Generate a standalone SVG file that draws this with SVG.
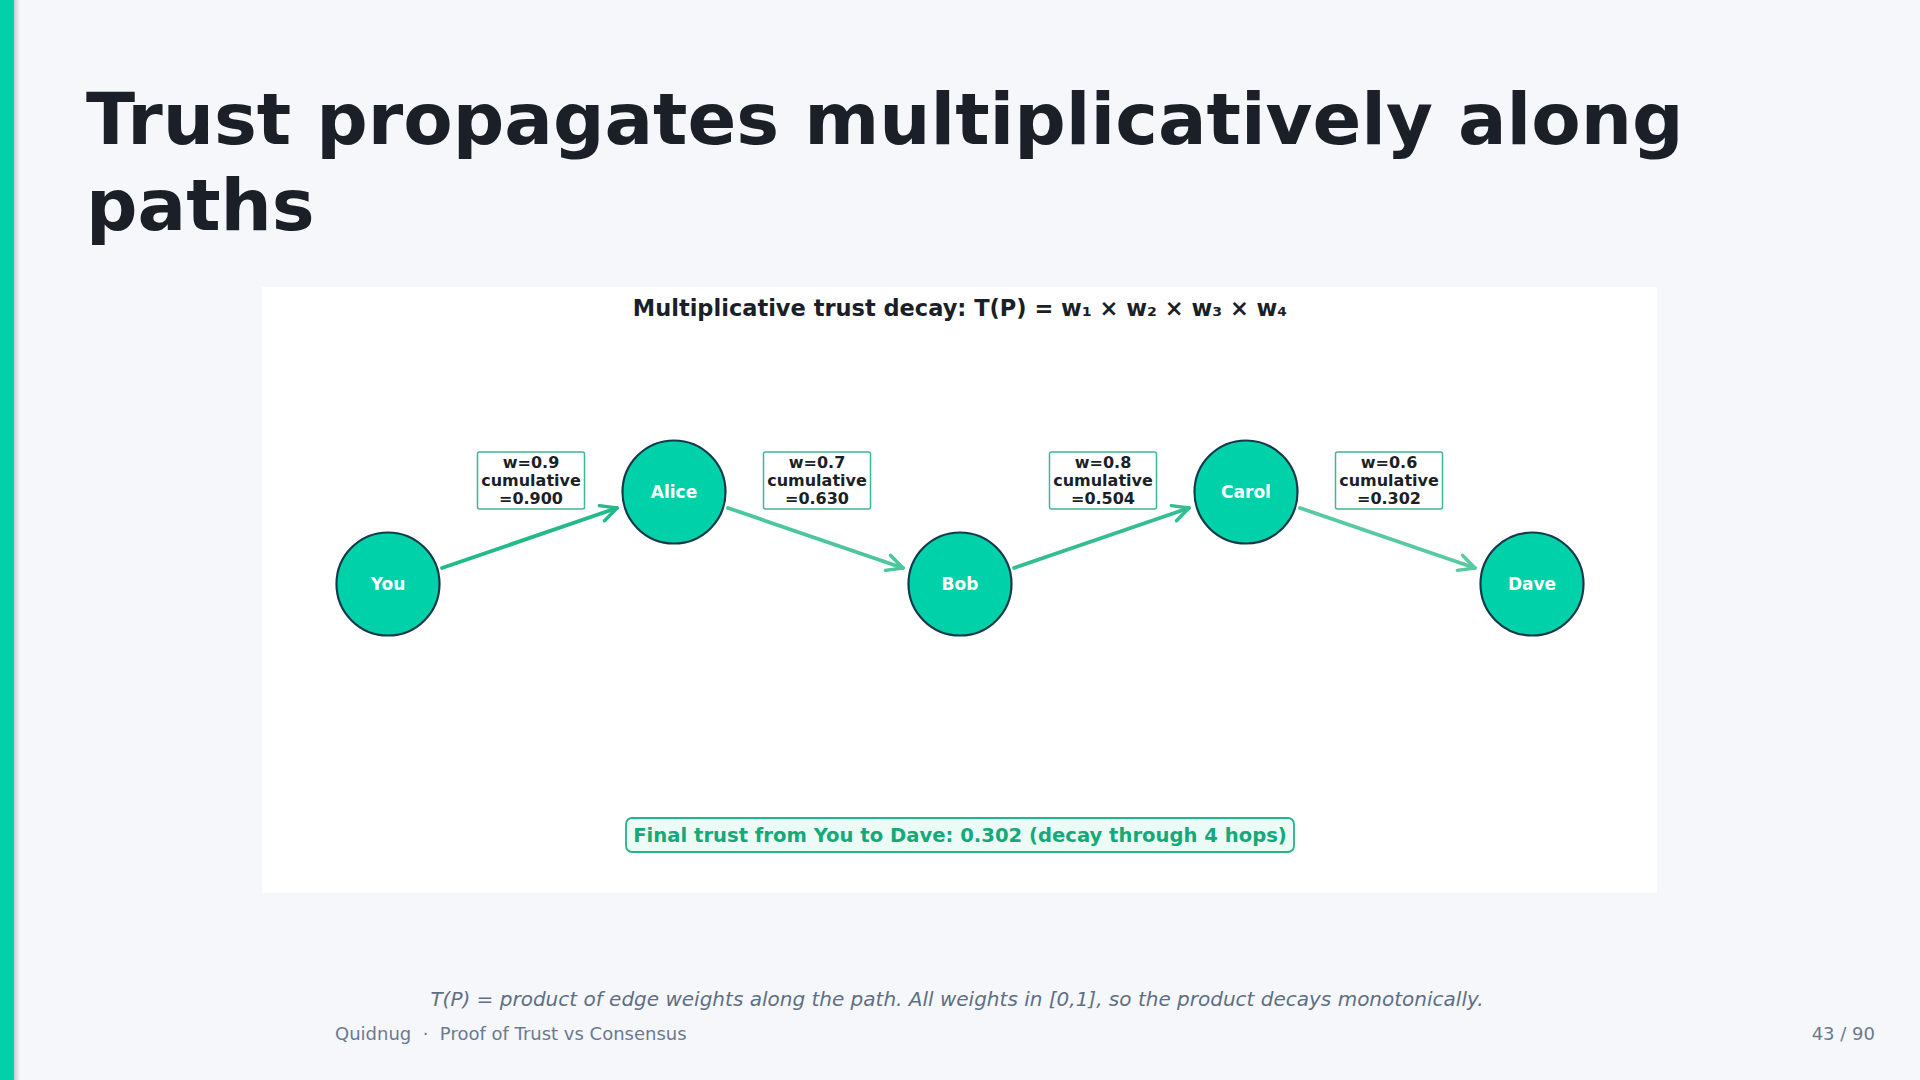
<svg xmlns="http://www.w3.org/2000/svg" width="1920" height="1080" viewBox="0 0 1920 1080">
  <defs>
    <linearGradient id="shadow" x1="0" x2="1" y1="0" y2="0">
      <stop offset="0" stop-color="#000" stop-opacity="0.18"/>
      <stop offset="1" stop-color="#000" stop-opacity="0"/>
    </linearGradient>
    <marker id="arr" viewBox="0 0 20 20" refX="17" refY="10" markerWidth="6" markerHeight="6" markerUnits="strokeWidth" orient="auto">
      <path d="M3,3 L17,10 L3,17" fill="none" stroke="context-stroke" stroke-width="3" stroke-linecap="round" stroke-linejoin="round"/>
    </marker>
  </defs>
  <style>
    .title{font-family:"DejaVu Sans",sans-serif;font-weight:bold;font-size:72px;fill:#1b1f27}
    .ftitle{font-family:"DejaVu Sans",sans-serif;font-weight:bold;font-size:22.5px;fill:#1b1f27}
    .node circle{fill:#00D1A8;stroke:#163a4c;stroke-width:2.2}
    .node text{font-family:"DejaVu Sans",sans-serif;font-weight:bold;font-size:17px;fill:#ffffff;text-anchor:middle}
    .lbl rect{fill:#ffffff;stroke:#3cb894;stroke-width:1.5}
    .lbl text{font-family:"DejaVu Sans",sans-serif;font-weight:bold;font-size:16px;fill:#1b1f27;text-anchor:middle}
    .edge{fill:none;stroke-width:3.8;stroke-linecap:round;marker-end:url(#arr)}
    .final rect{fill:#ecfbf5;stroke:#22b588;stroke-width:1.8}
    .final text{font-family:"DejaVu Sans",sans-serif;font-weight:bold;font-size:19.6px;fill:#15a97a;text-anchor:middle}
    .caption{font-family:"DejaVu Sans",sans-serif;font-style:italic;font-size:20px;fill:#5f6f84;text-anchor:middle}
    .footer{font-family:"DejaVu Sans",sans-serif;font-size:18px;fill:#6b7a8f}
  </style>
  <rect x="0" y="0" width="1920" height="1080" fill="#f5f7fb"/>
  <rect x="14" y="0" width="6" height="1080" fill="url(#shadow)"/>
  <rect x="0" y="0" width="14" height="1080" fill="#00D1A8"/>

  <text class="title" x="86" y="144">Trust propagates multiplicatively along</text>
  <text class="title" x="86" y="230">paths</text>

  <rect x="262" y="287" width="1395" height="606" fill="#ffffff"/>
  <text class="ftitle" x="960" y="316" text-anchor="middle">Multiplicative trust decay: T(P) = w₁ × w₂ × w₃ × w₄</text>

  <g id="connectors">
    <line class="edge" x1="442" y1="568" x2="617" y2="508" stroke="#24b98a"/>
    <line class="edge" x1="728" y1="508" x2="903" y2="568" stroke="#4cc69c"/>
    <line class="edge" x1="1014" y1="568" x2="1189" y2="508" stroke="#33bd90"/>
    <line class="edge" x1="1300" y1="508" x2="1475" y2="568" stroke="#58c9a1"/>
  </g>

  <g id="label-you-alice" class="lbl">
    <rect x="477.5" y="452" width="107" height="57" rx="2"/>
    <text x="531" y="468">w=0.9</text>
    <text x="531" y="486">cumulative</text>
    <text x="531" y="504">=0.900</text>
  </g>
  <g id="label-alice-bob" class="lbl">
    <rect x="763.5" y="452" width="107" height="57" rx="2"/>
    <text x="817" y="468">w=0.7</text>
    <text x="817" y="486">cumulative</text>
    <text x="817" y="504">=0.630</text>
  </g>
  <g id="label-bob-carol" class="lbl">
    <rect x="1049.5" y="452" width="107" height="57" rx="2"/>
    <text x="1103" y="468">w=0.8</text>
    <text x="1103" y="486">cumulative</text>
    <text x="1103" y="504">=0.504</text>
  </g>
  <g id="label-carol-dave" class="lbl">
    <rect x="1335.5" y="452" width="107" height="57" rx="2"/>
    <text x="1389" y="468">w=0.6</text>
    <text x="1389" y="486">cumulative</text>
    <text x="1389" y="504">=0.302</text>
  </g>

  <g id="node-you" class="node">
    <circle cx="388" cy="584" r="51.5"/>
    <text x="388" y="590">You</text>
  </g>
  <g id="node-alice" class="node">
    <circle cx="674" cy="492" r="51.5"/>
    <text x="674" y="498">Alice</text>
  </g>
  <g id="node-bob" class="node">
    <circle cx="960" cy="584" r="51.5"/>
    <text x="960" y="590">Bob</text>
  </g>
  <g id="node-carol" class="node">
    <circle cx="1246" cy="492" r="51.5"/>
    <text x="1246" y="498">Carol</text>
  </g>
  <g id="node-dave" class="node">
    <circle cx="1532" cy="584" r="51.5"/>
    <text x="1532" y="590">Dave</text>
  </g>

  <g id="final" class="final">
    <rect x="626" y="818" width="668" height="34" rx="6"/>
    <text x="960" y="842">Final trust from You to Dave: 0.302 (decay through 4 hops)</text>
  </g>

  <text class="caption" x="957" y="1006">T(P) = product of edge weights along the path. All weights in [0,1], so the product decays monotonically.</text>
  <text class="footer" x="335" y="1040">Quidnug &#160;·&#160; Proof of Trust vs Consensus</text>
  <text class="footer" x="1875" y="1040" text-anchor="end">43 / 90</text>
</svg>
